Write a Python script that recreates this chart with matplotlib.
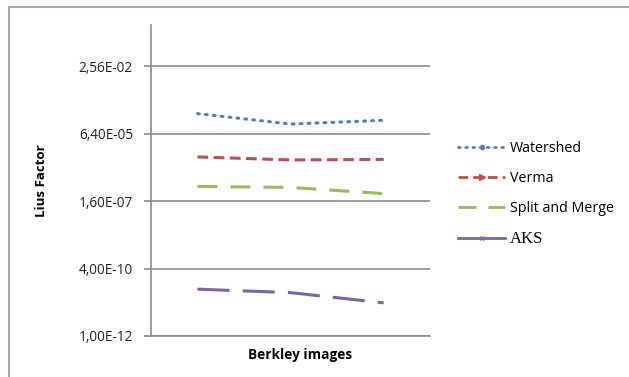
import matplotlib.pyplot as plt
from matplotlib.lines import Line2D
from matplotlib.patches import Rectangle

categories = ["img1", "img2", "img3"]
watershed = [3.8e-4, 1.5e-4, 2.1e-4]
verma = [8.1e-6, 6.2e-6, 6.5e-6]
split_merge = [5.9e-7, 5.4e-7, 3.1e-7]
aks = [6.4e-11, 4.7e-11, 1.9e-11]

yticks = [1e-12, 4e-10, 1.6e-7, 6.4e-5, 2.56e-2]
ytick_labels = ["1,00E-12", "4,00E-10", "1,60E-07", "6,40E-05", "2,56E-02"]

plt.rcParams['font.family'] = ['Open Sans', 'DejaVu Sans']

fig = plt.figure(figsize=(6.29, 3.77), dpi=100)
ax = fig.add_axes([0.240, 0.1088, 0.444, 0.825])

x = range(len(categories))
ax.plot(x, watershed, color='#4F81BD', lw=2.2, dashes=(0.6, 2.0), dash_capstyle='round')
ax.plot(x, verma, color='#C0504D', lw=2.2, dashes=(3.5, 1.8))
ax.plot(x, split_merge, color='#9BBB59', lw=2.2, dashes=(6.5, 4.3))
ax.plot(x, aks, color='#8064A2', lw=2.2, dashes=(10.5, 4.3))

ax.set_yscale('log')
ax.set_ylim(1e-12, 1)
ax.set_xlim(-0.5, 2.5)
ax.set_yticks(yticks)
ax.set_yticklabels(ytick_labels, fontsize=9.8, color='#222222')
ax.minorticks_off()
ax.set_xticks([])
ax.yaxis.grid(True, color='#8C8C8C', lw=1.2)
ax.set_axisbelow(True)
for s in ['top', 'right']:
    ax.spines[s].set_visible(False)
for s in ['left', 'bottom']:
    ax.spines[s].set_color('#8C8C8C')
    ax.spines[s].set_linewidth(1.2)
ax.tick_params(axis='y', length=5, color='#8C8C8C', width=1.2, pad=8)

ax.set_ylabel('Lius Factor', fontsize=9.5, fontweight='bold', labelpad=22)
fig.text(0.477, 0.058, 'Berkley images', fontsize=9.8, fontweight='bold', ha='center', va='center')

handles = [
    Line2D([], [], color='#4F81BD', lw=2, dashes=(0.6, 2.0), dash_capstyle='round', marker='o', ms=3),
    Line2D([], [], color='#C0504D', lw=2, dashes=(3.5, 1.8), marker='>', ms=4),
    Line2D([], [], color='#9BBB59', lw=2, dashes=(6.5, 4.3)),
    Line2D([], [], color='#8064A2', lw=2, marker='x', ms=3, mew=1),
]
labels = ['Watershed', 'Verma', 'Split and Merge', 'AKS']
leg = fig.legend(handles, labels, loc='upper left', bbox_to_anchor=(0.708, 0.66),
                 frameon=False, fontsize=10.3, handlelength=3.3, labelspacing=1.05,
                 handletextpad=0.3)
leg.get_texts()[3].set_family('Liberation Serif')
leg.get_texts()[3].set_fontsize(12)

fig.patches.append(Rectangle((8.5 / 629, -0.1), 1.0, 1.0 - 7 / 377 + 0.1,
                             transform=fig.transFigure, fill=False,
                             edgecolor='#A6A6A6', lw=1.5))

fig.savefig('out.png', dpi=100)
